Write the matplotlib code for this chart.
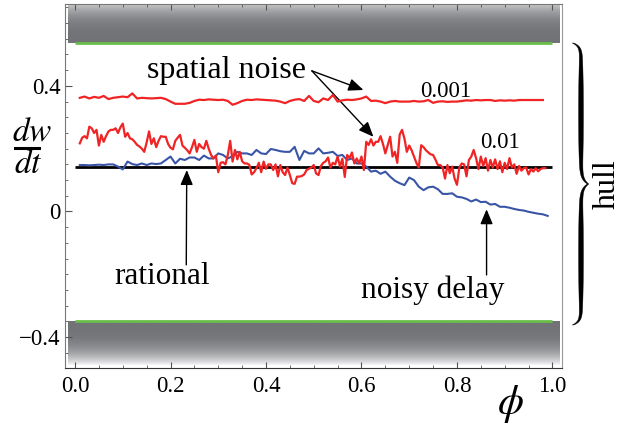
import numpy as np
import matplotlib
matplotlib.use("Agg")
import matplotlib.pyplot as plt
from matplotlib.colors import LinearSegmentedColormap
from matplotlib.patches import Polygon
from matplotlib.ticker import MultipleLocator, FixedLocator

plt.rcParams["font.family"] = ["Liberation Serif", "DejaVu Serif"]
plt.rcParams["mathtext.fontset"] = "stix"

# --- data ---
# spatial noise 0.001 (red, upper)
phi_001 = np.arange(1, 99) / 100
noise_001 = [
    0.362, 0.366, 0.360, 0.365, 0.362, 0.368, 0.358, 0.362, 0.364, 0.366,
    0.364, 0.376, 0.360, 0.362, 0.361, 0.360, 0.361, 0.362, 0.358, 0.350,
    0.343, 0.343, 0.343, 0.346, 0.352, 0.356, 0.355, 0.357, 0.356, 0.355,
    0.356, 0.352, 0.340, 0.345, 0.352, 0.356, 0.355, 0.357, 0.356, 0.355,
    0.354, 0.353, 0.350, 0.345, 0.352, 0.356, 0.358, 0.352, 0.368, 0.352,
    0.348, 0.360, 0.355, 0.371, 0.350, 0.354, 0.356, 0.355, 0.357, 0.360,
    0.366, 0.352, 0.353, 0.350, 0.345, 0.350, 0.352, 0.350, 0.350, 0.350,
    0.352, 0.350, 0.351, 0.355, 0.346, 0.350, 0.351, 0.349, 0.350, 0.350,
    0.352, 0.354, 0.353, 0.355, 0.354, 0.355, 0.355, 0.352, 0.354, 0.353,
    0.354, 0.353, 0.355, 0.355, 0.355, 0.355, 0.355, 0.355,
]

# spatial noise 0.01 (red, lower)
phi_01 = np.arange(2, 198) / 200
noise_01 = [
    0.217, 0.235, 0.240, 0.233, 0.270, 0.265, 0.250, 0.260, 0.210, 0.244,
    0.222, 0.240, 0.255, 0.260, 0.260, 0.265, 0.250, 0.268, 0.280, 0.238,
    0.250, 0.233, 0.230, 0.222, 0.212, 0.207, 0.200, 0.190, 0.220, 0.255,
    0.215, 0.233, 0.205, 0.225, 0.240, 0.238, 0.238, 0.215, 0.203, 0.198,
    0.225, 0.235, 0.244, 0.210, 0.203, 0.195, 0.185, 0.205, 0.228,
    0.190, 0.215, 0.205, 0.200, 0.225, 0.200, 0.180, 0.169, 0.178, 0.125,
    0.155, 0.157, 0.150, 0.180, 0.225, 0.159, 0.196, 0.166, 0.190, 0.160,
    0.153, 0.153, 0.149, 0.118, 0.125, 0.138, 0.155, 0.125, 0.159, 0.136,
    0.150, 0.150, 0.132, 0.150, 0.112, 0.148, 0.125, 0.116, 0.140, 0.116,
    0.090, 0.088, 0.111, 0.111, 0.113, 0.118, 0.132, 0.136, 0.140, 0.148,
    0.121, 0.116, 0.145, 0.155, 0.160, 0.172, 0.140, 0.155, 0.150, 0.175,
    0.143, 0.168, 0.110, 0.180, 0.170, 0.188, 0.153, 0.169, 0.153, 0.175,
    0.132, 0.222, 0.212, 0.230, 0.210, 0.222, 0.222, 0.240, 0.215, 0.185,
    0.212, 0.238, 0.175, 0.190, 0.155, 0.245, 0.260, 0.232, 0.190, 0.210,
    0.195, 0.175, 0.155, 0.140, 0.211, 0.205, 0.195, 0.188, 0.182, 0.180,
    0.165, 0.148, 0.148, 0.140, 0.105, 0.148, 0.122, 0.143, 0.105, 0.085,
    0.140, 0.153, 0.150, 0.112, 0.164, 0.175, 0.196, 0.170, 0.135, 0.175,
    0.145, 0.170, 0.130, 0.164, 0.140, 0.166, 0.135, 0.160, 0.125, 0.155,
    0.135, 0.170, 0.140, 0.150, 0.120, 0.145, 0.130, 0.138, 0.140, 0.118,
    0.135, 0.127, 0.138, 0.128, 0.135, 0.138, 0.138,
]

# noisy delay (blue)
phi_delay = np.arange(1, 100) / 100
delay = [
    0.148, 0.148, 0.147, 0.148, 0.149, 0.148, 0.150, 0.150, 0.143, 0.134,
    0.159, 0.151, 0.148, 0.153, 0.148, 0.153, 0.151, 0.153, 0.164, 0.175,
    0.153, 0.168, 0.164, 0.172, 0.172, 0.164, 0.178, 0.169, 0.169, 0.185,
    0.180, 0.169, 0.176, 0.190, 0.185, 0.185, 0.180, 0.196, 0.185, 0.183,
    0.199, 0.196, 0.192, 0.190, 0.190, 0.206, 0.164, 0.193, 0.185, 0.185,
    0.201, 0.185, 0.187, 0.190, 0.177, 0.180, 0.164, 0.169, 0.153, 0.153,
    0.143, 0.127, 0.130, 0.120, 0.127, 0.111, 0.098, 0.090, 0.084, 0.108,
    0.100, 0.079, 0.068, 0.077, 0.079, 0.071, 0.056, 0.056, 0.058, 0.047,
    0.045, 0.040, 0.032, 0.038, 0.030, 0.031, 0.022, 0.024, 0.015, 0.015,
    0.012, 0.008, 0.005, 0.003, -0.001, -0.004, -0.007, -0.009, -0.014,
]

rational = 0.143
hull_top = 0.536
hull_bottom = -0.349
band_depth = 0.14

y_ticks = [-0.4, 0, 0.4]
y_ticklabels = ["\u22120.4", "0", "0.4"]
x_ticks = [0.0, 0.2, 0.4, 0.6, 0.8, 1.0]
x_ticklabels = ["0.0", "0.2", "0.4", "0.6", "0.8", "1.0"]

red = "#f02424"
blue = "#3a55a6"
green = "#6abf4a"

W, H = 621, 425
fig = plt.figure(figsize=(W / 100, H / 100), dpi=100)
ax = fig.add_axes([65 / W, 57 / H, 497 / W, 364 / H])
ax.set_xlim(-0.021, 1.020)
ax.set_ylim(-0.4984, 0.6608)

# gray bands outside the hull
cmap = LinearSegmentedColormap.from_list("band", ["#727377", "#f6f6f7"])
t = np.linspace(0, 1, 256) ** 3
ax.imshow(t[::-1, None], extent=(-0.014, 1.016, hull_top, hull_top + band_depth),
          aspect="auto", cmap=cmap, vmin=0, vmax=1, zorder=0)
ax.imshow(t[:, None], extent=(-0.014, 1.016, hull_bottom - band_depth, hull_bottom),
          aspect="auto", cmap=cmap, vmin=0, vmax=1, zorder=0)
ax.hlines([hull_top, hull_bottom], 0, 1, colors=green, lw=2.0, zorder=2)

ax.hlines(rational, 0, 1, colors="black", lw=2.0, zorder=2.5)
ax.plot(phi_delay, delay, color=blue, lw=1.5, zorder=3)
ax.plot(phi_001, noise_001, color=red, lw=1.6, zorder=4)
ax.plot(phi_01, noise_01, color=red, lw=1.6, zorder=4)

# axes, ticks
ax.xaxis.set_major_locator(FixedLocator(x_ticks))
ax.set_xticklabels(x_ticklabels)
ax.xaxis.set_minor_locator(MultipleLocator(0.05))
ax.yaxis.set_major_locator(FixedLocator(y_ticks))
ax.set_yticklabels(y_ticklabels)
ax.yaxis.set_minor_locator(MultipleLocator(0.05))
ax.tick_params(which="both", direction="in", top=True, right=False,
               labelsize=16.5, colors="#555555", labelcolor="black")
ax.tick_params(axis="x", which="major", length=4, pad=6)
ax.tick_params(axis="x", which="minor", length=2)
ax.tick_params(axis="y", which="major", length=5, pad=3)
ax.tick_params(axis="y", which="minor", length=2.5)
for side, col in [("left", "#777777"), ("bottom", "#333333"),
                  ("top", "#777777"), ("right", "#999999")]:
    ax.spines[side].set_color(col)
    ax.spines[side].set_linewidth(0.8)

# labels and arrows
arrow = dict(arrowstyle="-|>,head_length=0.9,head_width=0.38", color="black",
             lw=1.0, shrinkA=0, shrinkB=0, mutation_scale=10)
ax.text(0.318, 0.424, "spatial noise", fontsize=23, ha="center", va="baseline")
ax.annotate("", xy=(0.604, 0.387), xytext=(0.496, 0.448), arrowprops=arrow)
ax.annotate("", xy=(0.625, 0.238), xytext=(0.496, 0.448), arrowprops=arrow)
ax.text(0.777, 0.366, "0.001", fontsize=16.5, ha="center", va="baseline")
ax.text(0.891, 0.203, "0.01", fontsize=16.5, ha="center", va="baseline")
ax.text(0.182, -0.232, "rational", fontsize=22.5, ha="center", va="baseline")
ax.annotate("", xy=(0.234, 0.132), xytext=(0.233, -0.170), arrowprops=arrow)
ax.text(0.749, -0.2765, "noisy delay", fontsize=22.5, ha="center", va="baseline")
ax.annotate("", xy=(0.862, 0.007), xytext=(0.862, -0.202), arrowprops=arrow)

# y label as a fraction dw/dt
fig.text(32.5 / W, 1 - 140.7 / H, r"$dw$", fontsize=24, ha="center", va="baseline")
fig.text(28 / W, 1 - 173.3 / H, r"$dt$", fontsize=24, ha="center", va="baseline")
fig.add_artist(plt.Line2D([15 / W, 39 / W], [1 - 148.3 / H] * 2, color="black",
                          lw=2.2, transform=fig.transFigure))
# x label
fig.text(510.7 / W, 1 - 414 / H, r"$\phi$", fontsize=30, ha="center", va="baseline")

# brace for hull
s = np.linspace(0, 1, 160)
yy = 43 + s * 141
xc = 581 - 8 * np.exp(-(yy - 43) / 3.5) + 7 * np.exp(-(184 - yy) / 5)
ww = 1.4 + 3.4 * np.sin(np.pi * s) ** 0.6
y_all = np.concatenate([yy, 368 - yy[::-1]])
x_all = np.concatenate([xc, xc[::-1]])
w_all = np.concatenate([ww, ww[::-1]])
right_edge = np.column_stack([(x_all + w_all / 2) / W, 1 - y_all / H])
left_edge = np.column_stack([(x_all - w_all / 2) / W, 1 - y_all / H])[::-1]
fig.add_artist(Polygon(np.vstack([right_edge, left_edge]), closed=True,
                       facecolor="black", edgecolor="black", lw=0.3,
                       transform=fig.transFigure))
fig.text(607 / W, 1 - 184 / H, "hull", fontsize=23, rotation=90,
         ha="center", va="center")

fig.savefig("out.png", dpi=100)
